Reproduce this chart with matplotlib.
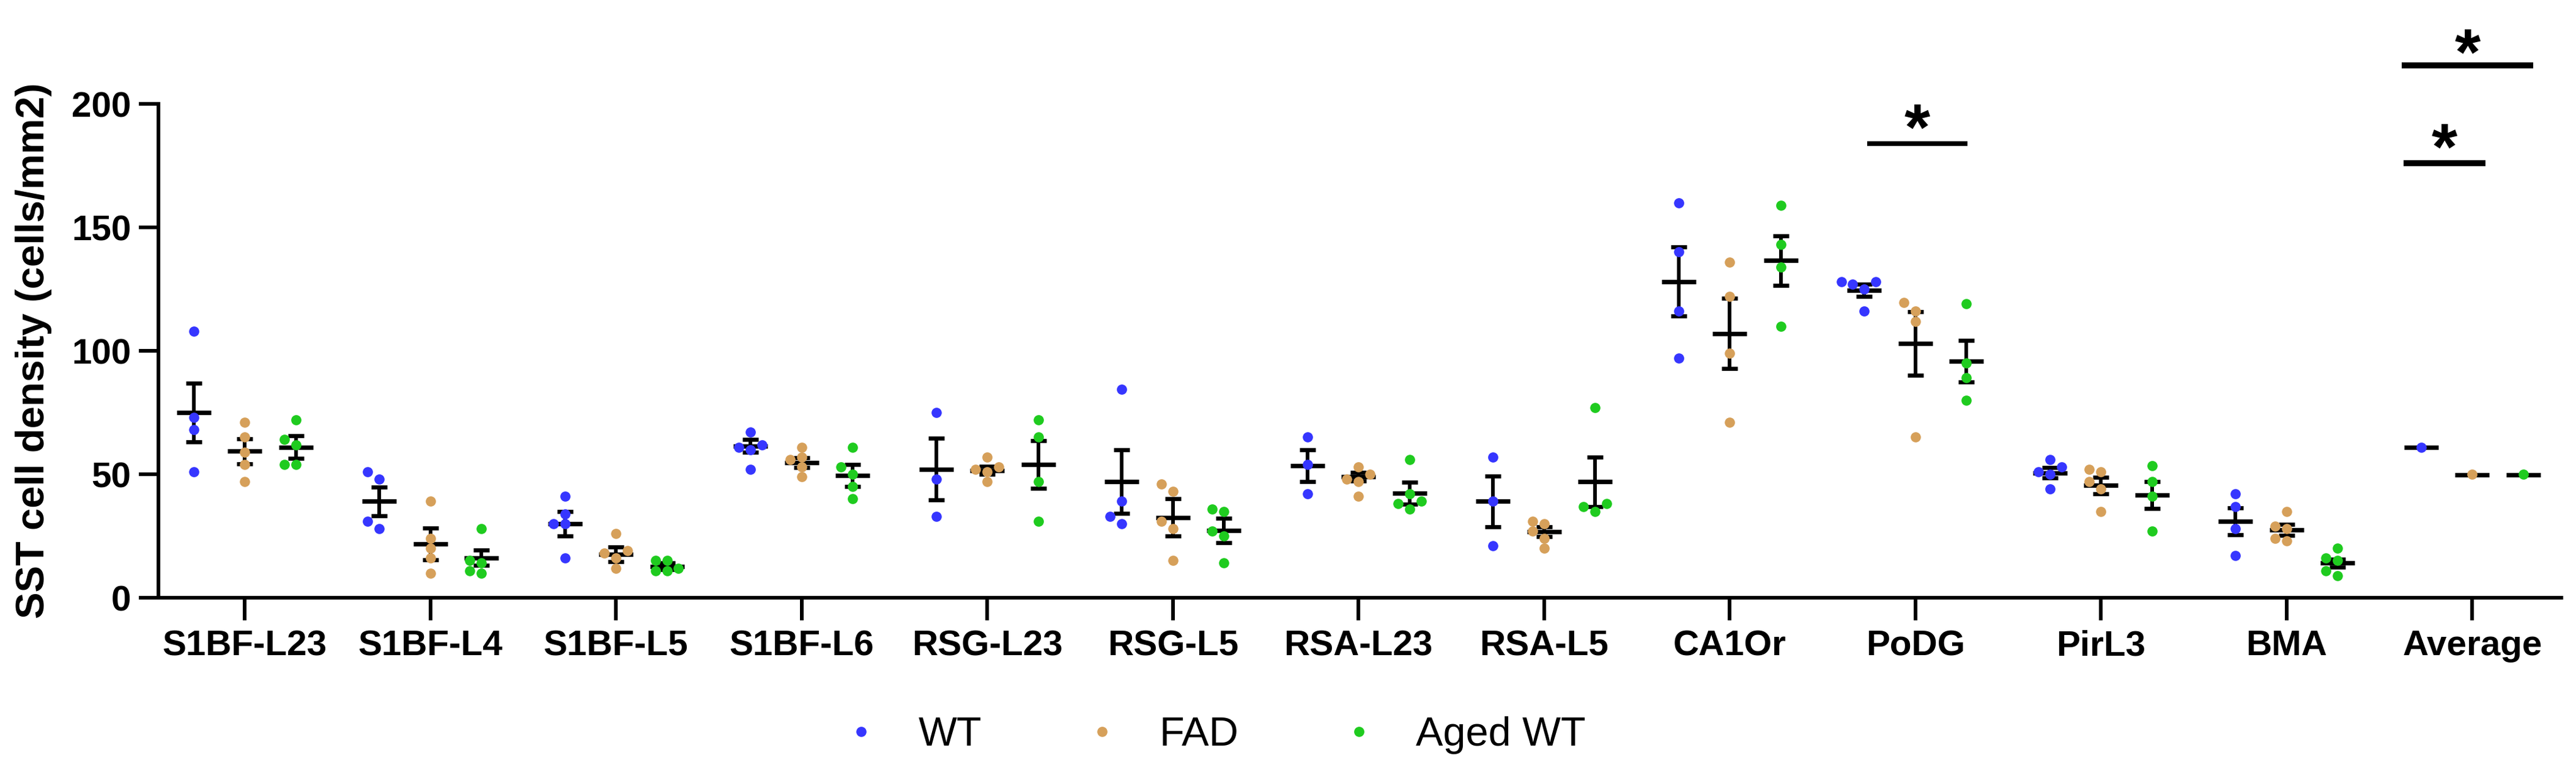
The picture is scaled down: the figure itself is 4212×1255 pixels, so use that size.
import numpy as np
import matplotlib
matplotlib.use("Agg")
from matplotlib import pyplot as plt
from matplotlib.lines import Line2D

# regions on the x axis
regions = ["S1BF-L23", "S1BF-L4", "S1BF-L5", "S1BF-L6", "RSG-L23", "RSG-L5",
           "RSA-L23", "RSA-L5", "CA1Or", "PoDG", "PirL3", "BMA", "Average"]
groups = ["WT", "FAD", "Aged WT"]

# individual animals (cells/mm2)
wt_points = [[108, 73, 68, 51], [51, 48, 31, 28], [41, 34, 30, 30, 16],
             [67, 62, 61, 60, 52], [75, 48, 33], [84.5, 39, 33, 30],
             [65, 54, 42], [57, 39, 21], [160, 140, 116, 97],
             [128, 128, 127, 125, 116], [56, 53, 51, 50, 44],
             [42, 37, 28, 17], [61]]
fad_points = [[71, 65, 59, 54, 47], [39, 24, 20, 16, 10], [26, 19, 18, 16, 12],
              [61, 57, 56, 53, 49], [57, 53, 52, 51, 47], [46, 43, 31, 28, 15],
              [53, 50, 48, 47, 41], [31, 30, 27, 24, 20], [136, 122, 99, 71],
              [119.5, 116, 112, 65], [52, 51, 47, 44, 35],
              [35, 29, 28, 24, 23], [50]]
aged_points = [[72, 64, 62, 54, 54], [28, 15, 14, 11, 10], [15, 15, 12, 11, 11],
               [61, 53, 50, 45, 40], [72, 65, 47, 31], [36, 35, 27, 25, 14],
               [56, 42, 39, 38, 36], [77, 38, 37, 35], [159, 143, 134, 110],
               [119, 95, 89, 80], [53.5, 47, 41, 27], [20, 16, 15, 11, 9], [50]]

# mean +/- SEM as drawn
wt_mean = [75, 39, 30, 61.5, 52, 47, 53.5, 39, 128, 124.5, 50.6, 31, 61]
wt_sem = [12, 5.8, 5, 2.5, 12.5, 12.8, 6.5, 10.3, 14, 2.4, 2.2, 5.5, 0]
fad_mean = [59.3, 21.8, 17.6, 54.8, 51.5, 32.5, 49, 26.8, 107, 103, 45.5, 27.5, 49.8]
fad_sem = [5, 6.4, 3, 2, 1.6, 7.5, 1.8, 2, 14.3, 12.8, 3.3, 2.3, 0]
aged_mean = [61, 16.2, 12.7, 49.5, 54, 27.2, 42.4, 47, 136.6, 95.8, 41.6, 14, 49.8]
aged_sem = [4.5, 3, 1.3, 4.5, 9.7, 5, 4.5, 10, 10, 8.3, 5.5, 1.5, 0]

# significance bars: (region, left offset, right offset, height, star height)
sig_bars = [("PoDG", -0.26, 0.28, 184, 197),
            ("Average", -0.38, 0.33, 215.5, 227.5),
            ("Average", -0.37, 0.07, 176, 189)]

colors = ["#3636FF", "#D6A05A", "#1FCB1F"]
offsets = [-0.275, 0.0, 0.275]

# pixel size of one unit on each axis, for spreading overlapping dots
PX_X = 303.6
PX_Y = 4.04


def swarm(vals, center, step=0.062, min_px=15.0):
    vals = np.asarray(vals, dtype=float)
    xs = np.full(len(vals), center)
    placed = []
    for i in np.argsort(vals):
        for k in [0, -1, 1, -2, 2, -3, 3]:
            cx = center + k * step
            ok = all(np.hypot((cx - px) * PX_X, (vals[i] - py) * PX_Y) >= min_px
                     for px, py in placed)
            if ok:
                break
        xs[i] = cx
        placed.append((cx, vals[i]))
    return xs


plt.rcParams['font.family'] = ['Liberation Sans', 'DejaVu Sans']

fig = plt.figure(figsize=(42.12, 12.55), dpi=100)
ax = fig.add_axes([259 / 4212, 1 - 978 / 1255, (4188 - 259) / 4212, (978 - 170) / 1255])

lw = 4.3
all_points = [wt_points, fad_points, aged_points]
all_means = [wt_mean, fad_mean, aged_mean]
all_sems = [wt_sem, fad_sem, aged_sem]

for g in range(3):
    for i in range(len(regions)):
        x = i + offsets[g]
        m = all_means[g][i]
        s = all_sems[g][i]
        ax.plot([x - 0.092, x + 0.092], [m, m], color="black", lw=lw + 1,
                solid_capstyle="butt", zorder=2)
        if s > 0:
            ax.errorbar(x, m, yerr=s, fmt="none", ecolor="black", elinewidth=lw,
                        capsize=9.7, capthick=lw + 0.5, zorder=2)
        pts = all_points[g][i]
        ax.plot(swarm(pts, x), pts, "o", ms=12, mew=0, color=colors[g], zorder=3)

for name, x0, x1, yl, ys in sig_bars:
    c = regions.index(name)
    ax.plot([c + x0, c + x1], [yl, yl], color="black", lw=5.5 if name == "PoDG" else 7,
            solid_capstyle="butt", clip_on=False)
    ax.text(c + (x0 + x1) / 2, ys - 15.5, "*", ha="center", va="baseline",
            fontsize=78, fontweight="bold", clip_on=False)

ax.set_xlim(-0.465, 12.48)
ax.set_ylim(0, 200)
ax.set_yticks([0, 50, 100, 150, 200])
ax.set_xticks(range(len(regions)))
ax.set_xticklabels(regions)
for sp in ["top", "right"]:
    ax.spines[sp].set_visible(False)
for sp in ["left", "bottom"]:
    ax.spines[sp].set_linewidth(lw)
ax.tick_params(axis="y", length=23, width=lw, pad=9, labelsize=42)
ax.tick_params(axis="x", length=26.5, width=lw, pad=11, labelsize=42)
for lab in ax.get_xticklabels() + ax.get_yticklabels():
    lab.set_fontweight("bold")

ax.set_ylabel("SST cell density (cells/mm2)", fontsize=47, fontweight="bold")
ax.yaxis.set_label_coords((85 - 259) / 3929, 0.5)

handles = [Line2D([], [], ls="none", marker="o", ms=12, mew=0, color=c) for c in colors]
fig.legend(handles, groups, ncol=3, loc="center", bbox_to_anchor=(0.471, 0.0414),
           frameon=False, fontsize=48, handlelength=1.0, handletextpad=0.9,
           columnspacing=2.45)

fig.savefig("out.png", dpi=100)
